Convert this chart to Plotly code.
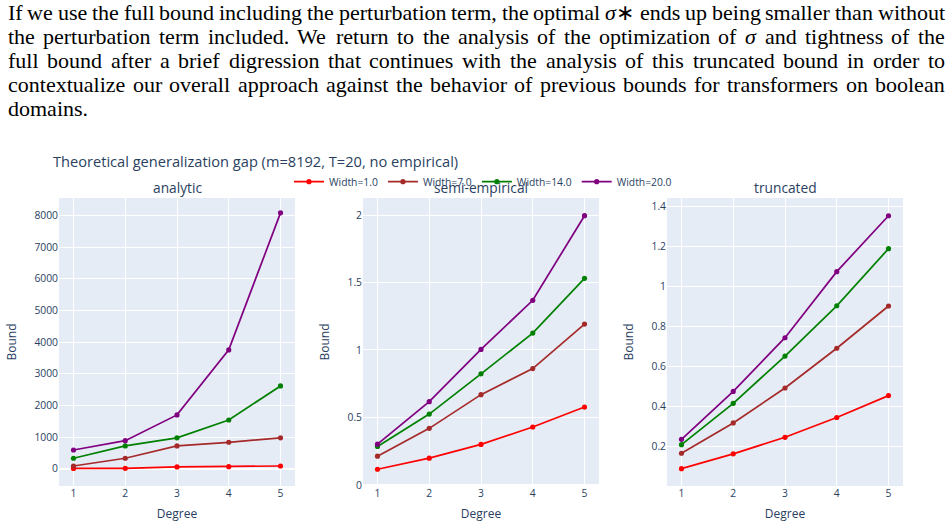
import plotly.graph_objects as go
from plotly.subplots import make_subplots

# ---------------- data ----------------
degrees = [1, 2, 3, 4, 5]
series_names = ["Width=1.0", "Width=7.0", "Width=14.0", "Width=20.0"]
series_colors = ["red", "brown", "green", "purple"]
panel_titles = ["analytic", "semi-empirical", "truncated"]

analytic_w1 = [8, 12, 55, 65, 85]
analytic_w7 = [85, 330, 720, 835, 975]
analytic_w14 = [330, 720, 975, 1540, 2615]
analytic_w20 = [590, 885, 1700, 3755, 8085]

semi_w1 = [0.116, 0.198, 0.300, 0.429, 0.577]
semi_w7 = [0.213, 0.419, 0.669, 0.862, 1.192]
semi_w14 = [0.285, 0.525, 0.823, 1.125, 1.531]
semi_w20 = [0.302, 0.617, 1.004, 1.368, 1.995]

trunc_w1 = [0.088, 0.162, 0.245, 0.344, 0.454]
trunc_w7 = [0.165, 0.317, 0.492, 0.691, 0.903]
trunc_w14 = [0.208, 0.415, 0.652, 0.904, 1.190]
trunc_w20 = [0.235, 0.475, 0.744, 1.075, 1.355]

paragraph_lines = [
    "If we use the full bound including the perturbation term, the optimal <i>σ</i>∗ ends up being smaller than without",
    "the perturbation term included.  We return to the analysis of the optimization of <i>σ</i> and tightness of the",
    "full bound after a brief digression that continues with the analysis of this truncated bound in order to",
    "contextualize our overall approach against the behavior of previous bounds for transformers on boolean",
    "domains.",
]

# ---------------- layout geometry ----------------
W, H = 948, 526
ML, MR, MT, MB = 59, 45, 198, 40
PW, PH = W - ML - MR, H - MT - MB
S = 0.86  # overall scale of the chart's text relative to plotly defaults


def paper_x(px):
    return (px - ML) / PW


def paper_y(py):
    return (H - MB - py) / PH


fig = make_subplots(rows=1, cols=3, subplot_titles=panel_titles,
                    horizontal_spacing=68 / PW)
fig.update_annotations(font=dict(size=16 * S, color="#2a3f5f"), yshift=-1)

panels = [
    [analytic_w1, analytic_w7, analytic_w14, analytic_w20],
    [semi_w1, semi_w7, semi_w14, semi_w20],
    [trunc_w1, trunc_w7, trunc_w14, trunc_w20],
]

for col, panel in enumerate(panels, start=1):
    for name, color, vals in zip(series_names, series_colors, panel):
        fig.add_trace(
            go.Scatter(x=degrees, y=vals, mode="lines+markers", name=name,
                       legendgroup=name, showlegend=(col == 1),
                       line=dict(color=color, width=2 * S),
                       marker=dict(color=color, size=6 * S)),
            row=1, col=col)

fig.update_xaxes(title_text="Degree", title_font=dict(size=14 * S),
                 title_standoff=10,
                 range=[0.72, 5.28], dtick=1, tickfont=dict(size=12 * S),
                 automargin=False)
fig.update_yaxes(title_text="Bound", title_font=dict(size=14 * S),
                 tickfont=dict(size=12 * S), automargin=False)
fig.update_yaxes(range=[-547, 8555], dtick=1000, row=1, col=1)
fig.update_yaxes(range=[-0.008, 2.126], dtick=0.5, row=1, col=2)
fig.update_yaxes(range=[0.001, 1.444], dtick=0.2, row=1, col=3)

# ---------------- paragraph text (justified) ----------------
CW = {
    ' ': 250, 'a': 444, 'b': 500, 'c': 444, 'd': 500, 'e': 444, 'f': 333,
    'g': 500, 'h': 500, 'i': 278, 'j': 278, 'k': 500, 'l': 278, 'm': 778,
    'n': 500, 'o': 500, 'p': 500, 'q': 500, 'r': 333, 's': 389, 't': 278,
    'u': 500, 'v': 500, 'w': 722, 'x': 500, 'y': 500, 'z': 444, ',': 250,
    '.': 250, 'I': 333, 'W': 944, 'σ': 520, '∗': 820,
}
FS = 22
LEFT, RIGHT = 7, 944
baselines = [19.5, 43.3, 67.1, 90.9, 114.7]


def word_width(w):
    plain = w.replace("<i>", "").replace("</i>", "")
    return sum(CW.get(c, 500) for c in plain) * FS / 1000


for li, line in enumerate(paragraph_lines):
    words = line.split()
    widths = [word_width(w) for w in words]
    last = li == len(paragraph_lines) - 1
    if len(words) > 1 and not last:
        gap = (RIGHT - LEFT - sum(widths)) / (len(words) - 1)
    else:
        gap = CW[' '] * FS / 1000
    x = LEFT
    for w, ww in zip(words, widths):
        fig.add_annotation(
            text=w, xref="paper", yref="paper",
            x=paper_x(x - 1), y=paper_y(baselines[li] - 0.3 * FS),
            xanchor="left", yanchor="middle", showarrow=False,
            font=dict(family="Liberation Serif", size=FS, color="black"))
        x += ww + gap

fig.update_layout(
    width=W, height=H, autosize=False,
    margin=dict(l=ML, r=MR, t=MT, b=MB, pad=0),
    font=dict(family="Open Sans, verdana, arial, sans-serif", size=12 * S,
              color="#2a3f5f"),
    title=dict(text="Theoretical generalization gap (m=8192, T=20, no empirical)",
               x=53 / W, xref="container", xanchor="left",
               y=1 - 161.7 / H, yref="container", yanchor="middle",
               font=dict(size=17 * S)),
    legend=dict(orientation="h", x=paper_x(289), y=paper_y(181.7),
                xanchor="left", yanchor="middle", font=dict(size=12 * S),
                bgcolor="rgba(0,0,0,0)"),
    paper_bgcolor="white",
)

fig.write_html("out.html")
